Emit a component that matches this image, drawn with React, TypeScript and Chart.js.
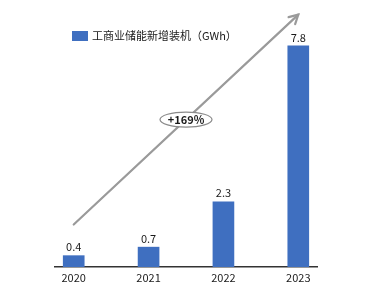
import React, { useEffect, useRef } from "react";
import { Chart, registerables } from "chart.js";

Chart.register(...registerables);

const years = ["2020", "2021", "2022", "2023"];
const values = [0.4, 0.7, 2.3, 7.8];
const seriesLabel = "工商业储能新增装机（GWh）";
const growthLabel = "+169%";
const arrowFrom = [0, 1.5];
const arrowTo = [3, 8.9];
const badgeAt = [1.5, 5.2];

const FONT = "'Noto Sans CJK SC', 'Noto Sans', sans-serif";
const BAR = "#3F6FC0";

const decorPlugin = {
  id: "decor",
  afterDatasetsDraw(chart: any) {
    const { ctx, scales } = chart;
    const xs = scales.x;
    const ys = scales.y;
    ctx.save();
    // value labels
    ctx.fillStyle = "#1a1a1a";
    ctx.font = `11px ${FONT}`;
    ctx.textAlign = "center";
    ctx.textBaseline = "bottom";
    const meta = chart.getDatasetMeta(0);
    meta.data.forEach((el: any, i: number) => {
      ctx.fillText(String(values[i]), el.x, el.y - 3);
    });
    // arrow
    const x1 = xs.getPixelForValue(arrowFrom[0]);
    const y1 = ys.getPixelForValue(arrowFrom[1]);
    const x2 = xs.getPixelForValue(arrowTo[0]);
    const y2 = ys.getPixelForValue(arrowTo[1]);
    ctx.strokeStyle = "#9a9a9a";
    ctx.lineWidth = 2.2;
    ctx.lineCap = "round";
    ctx.beginPath();
    ctx.moveTo(x1, y1);
    ctx.lineTo(x2, y2);
    ctx.stroke();
    const ang = Math.atan2(y2 - y1, x2 - x1);
    const hl = 10;
    ctx.beginPath();
    ctx.moveTo(x2 - hl * Math.cos(ang - 0.5), y2 - hl * Math.sin(ang - 0.5));
    ctx.lineTo(x2, y2);
    ctx.lineTo(x2 - hl * Math.cos(ang + 0.5), y2 - hl * Math.sin(ang + 0.5));
    ctx.stroke();
    // badge
    const bx = xs.getPixelForValue(badgeAt[0]);
    const by = ys.getPixelForValue(badgeAt[1]);
    ctx.beginPath();
    ctx.ellipse(bx, by, 26, 7.5, 0, 0, Math.PI * 2);
    ctx.fillStyle = "#fff";
    ctx.fill();
    ctx.lineWidth = 1.2;
    ctx.strokeStyle = "#8a8a8a";
    ctx.stroke();
    ctx.fillStyle = "#1a1a1a";
    ctx.font = `bold 11px ${FONT}`;
    ctx.textBaseline = "middle";
    ctx.fillText(growthLabel, bx, by + 0.5);
    // legend
    const lx = xs.left + 17;
    const ly = 36;
    ctx.fillStyle = BAR;
    ctx.fillRect(lx, ly - 5, 16, 10);
    ctx.fillStyle = "#1a1a1a";
    ctx.font = `11px ${FONT}`;
    ctx.textAlign = "left";
    ctx.fillText(chart.data.datasets[0].label, lx + 20, ly);
    ctx.restore();
  },
};

export default function App() {
  const ref = useRef<HTMLCanvasElement>(null);
  useEffect(() => {
    if (!ref.current) return;
    const chart = new Chart(ref.current, {
      type: "bar",
      data: {
        datasets: [
          {
            label: seriesLabel,
            data: values.map((v, i) => ({ x: i, y: v })),
            backgroundColor: BAR,
            barThickness: 21,
          },
        ],
      },
      options: {
        animation: false,
        responsive: false,
        layout: { padding: { left: 55, right: 50, top: 26, bottom: 0 } },
        plugins: { legend: { display: false }, tooltip: { enabled: false } },
        scales: {
          x: {
            type: "linear",
            offset: false,
            min: -0.25,
            max: 3.25,
            afterBuildTicks: (s: any) => {
              s.ticks = years.map((_, i) => ({ value: i }));
            },
            afterFit: (s: any) => {
              s.height = 25;
              s.paddingLeft = 0;
              s.paddingRight = 0;
            },
            grid: { display: false, drawTicks: false, offset: false },
            border: { display: true, color: "#333", width: 1.5 },
            ticks: {
              padding: 4,
              color: "#1a1a1a",
              font: { size: 11, family: FONT },
              callback: (v: any) => years[v] ?? "",
            },
          },
          y: {
            display: false,
            min: 0,
            max: 8.5,
          },
        },
      },
      plugins: [decorPlugin],
    } as any);
    return () => chart.destroy();
  }, []);
  return (
    <div style={{ position: "absolute", left: 0, top: 0, width: 367, height: 292, background: "#fff" }}>
      <canvas ref={ref} width={367} height={292} style={{ width: 367, height: 292 }} />
    </div>
  );
}
